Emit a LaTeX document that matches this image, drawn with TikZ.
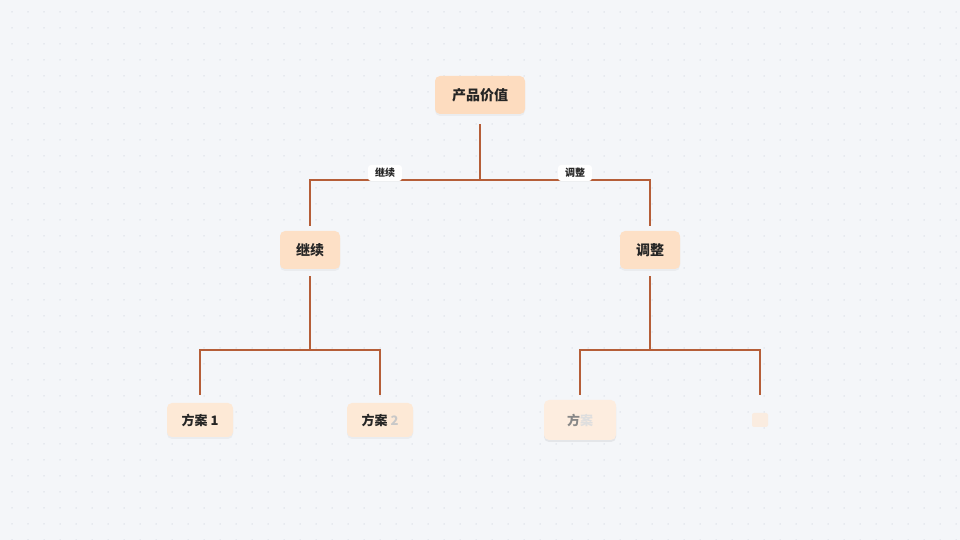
\documentclass[tikz,border=0pt]{standalone}
\usepackage{fontspec}
\newfontfamily\cjk{Noto Sans CJK SC}
\usetikzlibrary{shadows}
\definecolor{bgc}{HTML}{F4F6F9}
\definecolor{dotc}{HTML}{D9DDE5}
\definecolor{linec}{HTML}{B55E38}
\definecolor{rootfill}{HTML}{FDDCBF}
\definecolor{midfill}{HTML}{FDE0C6}
\definecolor{leaffill}{HTML}{FDE9D6}
\definecolor{fadefill}{HTML}{FDEDDF}
\definecolor{txt}{HTML}{252525}
\tikzset{
  box/.style={rounded corners=5pt, inner sep=0pt, text=txt, font=\cjk\bfseries,
    drop shadow={opacity=0.08, shadow xshift=0pt, shadow yshift=-2pt}},
  rootbox/.style={box, fill=rootfill, minimum width=90pt, minimum height=38pt, font=\cjk\bfseries\fontsize{14}{16}\selectfont},
  midbox/.style={box, fill=midfill, minimum width=60pt, minimum height=38pt, font=\cjk\bfseries\fontsize{14}{16}\selectfont},
  leafbox/.style={box, fill=leaffill, minimum width=66pt, minimum height=34pt, font=\cjk\bfseries\fontsize{13}{15}\selectfont},
  tag/.style={fill=white, rounded corners=3pt, inner sep=0pt, minimum width=34pt, minimum height=16pt,
    text=txt, font=\cjk\bfseries\fontsize{10}{11}\selectfont,
    drop shadow={opacity=0.06, shadow xshift=0pt, shadow yshift=-1pt}},
  conn/.style={draw=linec, line width=1.8pt}
}
\begin{document}
\begin{tikzpicture}[x=1pt,y=1pt]
\fill[bgc] (0,0) rectangle (960,540);
\useasboundingbox (0,0) rectangle (960,540);
\foreach \i in {0,...,59}{
  \foreach \j in {0,...,33}{
    \fill[dotc] (12+16*\i, 528-16*\j) circle (0.75pt);
  }
}
% nodes
\node[rootbox] (root) at (480,445) {产品价值};
\node[midbox] (n1) at (310,290) {继续};
\node[midbox] (n2) at (650,290) {调整};
\node[leafbox] (l1) at (200,120) {方案 1};
\node[leafbox] (l2) at (380,120) {方案 {\color{txt!25}2}};
\node[box, fill=fadefill, minimum width=72pt, minimum height=40pt, text=txt!55,
  font=\cjk\bfseries\fontsize{13}{15}\selectfont,
  drop shadow={opacity=0.05, shadow xshift=0pt, shadow yshift=-2pt}] (l3) at (580,120) {方{\color{txt!15}案}};
\node[fill=leaffill, fill opacity=0.7, rounded corners=2pt, minimum width=16pt, minimum height=14pt, inner sep=0pt] (l4) at (760,120) {};
% junctions
\coordinate (j1) at (480,360);
\coordinate (j2) at (0,190);
\coordinate (lj) at (0,145);
% connectors
\draw[conn] ([yshift=-10pt]root.south) -- (root |- j1);
\draw[conn] ([yshift=5pt]n1.north) -- (n1 |- j1) -- (n2 |- j1) -- ([yshift=5pt]n2.north);
\draw[conn] ([yshift=-7pt]n1.south) -- (n1 |- j2);
\draw[conn] (l1 |- lj) -- (l1 |- j2) -- (l2 |- j2) -- (l2 |- lj);
\draw[conn] ([yshift=-7pt]n2.south) -- (n2 |- j2);
\draw[conn] (l3 |- lj) -- (l3 |- j2) -- (l4 |- j2) -- (l4 |- lj);
% labels
\node[tag] (t1) at (385,367) {继续};
\node[tag] (t2) at (575,367) {调整};
\end{tikzpicture}
\end{document}
